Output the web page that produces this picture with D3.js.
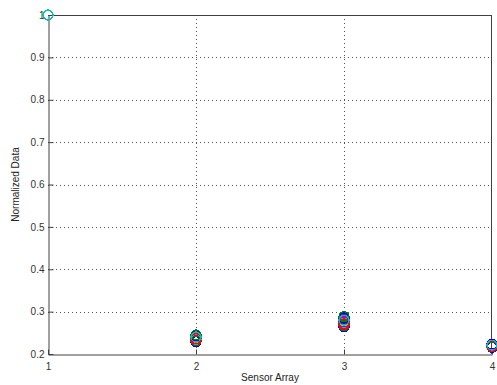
<!DOCTYPE html>
<html>
<head>
<meta charset="utf-8">
<script src="https://d3js.org/d3.v7.min.js"></script>
<style>
  body { margin: 0; background: #fff; }
  text { font-family: "Liberation Sans", Arial, sans-serif; }
</style>
</head>
<body>
<svg id="chart" width="497" height="385"></svg>
<script>
// Sensor array positions
const sensors = [1, 2, 3, 4];
// Normalized readings, one list per sample (value at sensor 1 is always 1)
const atSensor2 = [0.229, 0.231, 0.233, 0.235, 0.237, 0.239, 0.241, 0.243, 0.245, 0.236, 0.240];
const atSensor3 = [0.264, 0.267, 0.270, 0.273, 0.276, 0.279, 0.282, 0.285, 0.288, 0.271, 0.280];
const atSensor4 = [0.216, 0.217, 0.218, 0.219, 0.220, 0.221, 0.222, 0.223, 0.220, 0.218, 0.221];
const xTicks = [1, 2, 3, 4];
const yTicks = [0.2, 0.3, 0.4, 0.5, 0.6, 0.7, 0.8, 0.9, 1];
const palette = ["#0000ff", "#008000", "#ff0000", "#00bfbf", "#bf00bf", "#bfbf00", "#404040"];

const series = atSensor2.map((v, i) => [1, v, atSensor3[i], atSensor4[i]]);

const svg = d3.select("#chart");
const m = { left: 48, right: 5, top: 15, bottom: 31 };
const W = 497, H = 385;
const x = d3.scaleLinear().domain([1, 4]).range([m.left, W - m.right]);
const y = d3.scaleLinear().domain([0.2, 1]).range([H - m.bottom, m.top]);

// dotted grid
const grid = svg.append("g").attr("stroke", "#555").attr("stroke-dasharray", "1,3").attr("stroke-width", 1);
grid.selectAll("line.gx").data(xTicks.slice(1, -1)).join("line")
  .attr("x1", d => Math.round(x(d)) + 0.5).attr("x2", d => Math.round(x(d)) + 0.5)
  .attr("y1", y(1)).attr("y2", y(0.2));
grid.selectAll("line.gy").data(yTicks.slice(1, -1)).join("line")
  .attr("y1", d => Math.round(y(d)) + 0.5).attr("y2", d => Math.round(y(d)) + 0.5)
  .attr("x1", x(1)).attr("x2", x(4));

// axes with inward ticks
const xAxis = svg.append("g").attr("transform", `translate(0,${Math.round(y(0.2)) + 0.5})`)
  .call(d3.axisBottom(x).tickValues(xTicks).tickFormat(d3.format("d")).tickSizeInner(-5).tickSizeOuter(0).tickPadding(8));
const yAxis = svg.append("g").attr("transform", `translate(${Math.round(x(1)) + 0.5},0)`)
  .call(d3.axisLeft(y).tickValues(yTicks).tickFormat(d => d === 1 ? "1" : d3.format(".1f")(d)).tickSizeInner(-5).tickSizeOuter(0).tickPadding(4));
[xAxis, yAxis].forEach(a => {
  a.select(".domain").attr("stroke", "#404040");
  a.selectAll(".tick line").attr("stroke", "#404040");
  a.selectAll("text").attr("fill", "#333").style("font-size", "10px");
});

// box top and right
svg.append("line").attr("x1", x(1)).attr("x2", x(4)).attr("y1", Math.round(y(1)) + 0.5).attr("y2", Math.round(y(1)) + 0.5).attr("stroke", "#404040");
svg.append("line").attr("x1", Math.round(x(4)) - 0.5).attr("x2", Math.round(x(4)) - 0.5).attr("y1", y(1)).attr("y2", y(0.2)).attr("stroke", "#404040");

// open circle markers, drawn sample by sample
series.forEach((vals, i) => {
  svg.append("g").selectAll("circle").data(vals.map((v, j) => [sensors[j], v])).join("circle")
    .attr("cx", d => x(d[0])).attr("cy", d => y(d[1])).attr("r", 5)
    .attr("fill", "none").attr("stroke", palette[i % palette.length]).attr("stroke-width", 1.3)
    .attr("shape-rendering", "crispEdges");
});

// axis titles
svg.append("text").attr("x", (x(1) + x(4)) / 2).attr("y", 381).attr("text-anchor", "middle")
  .style("font-size", "10px").attr("fill", "#222").text("Sensor Array");
svg.append("text").attr("transform", `translate(19,${(y(1) + y(0.2)) / 2}) rotate(-90)`).attr("text-anchor", "middle")
  .style("font-size", "10px").attr("fill", "#222").text("Normalized Data");
</script>
</body>
</html>
